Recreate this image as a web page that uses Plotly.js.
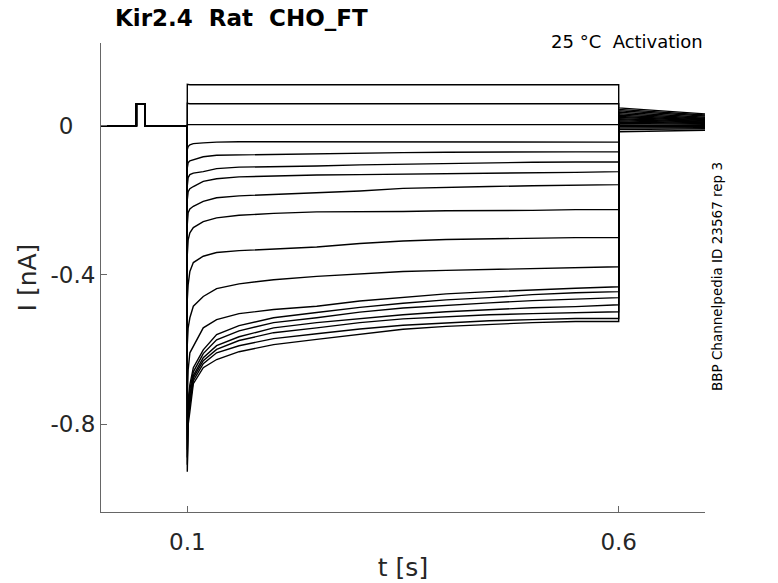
<!DOCTYPE html>
<html>
<head>
<meta charset="utf-8">
<script src="https://cdn.plot.ly/plotly-3.0.1.min.js"></script>
<style>
  html, body { margin: 0; padding: 0; background: #fff; }
  #chart { width: 778px; height: 583px; }
</style>
</head>
<body>
<div id="chart"></div>
<script>
// Kir2.4 activation sweeps (t in s, I in nA).

// holding + test pulse before the step (same for every sweep)
const preTimes = [0, 0.041, 0.041, 0.051, 0.051, 0.1];
const preCurrent = [0, 0, 0.058, 0.058, 0, 0];

// sample times during the voltage step
const stepTimes = [0.1, 0.101, 0.103, 0.107, 0.1185, 0.134, 0.16, 0.2, 0.25, 0.3, 0.35, 0.4, 0.45, 0.5, 0.55, 0.6];

const sweep01 = [0.111, 0.110, 0.110, 0.110, 0.110, 0.110, 0.110, 0.110, 0.110, 0.110, 0.110, 0.110, 0.110, 0.110, 0.110, 0.110];
const sweep02 = [0.060, 0.059, 0.059, 0.059, 0.059, 0.059, 0.059, 0.059, 0.059, 0.059, 0.059, 0.059, 0.059, 0.059, 0.059, 0.059];
const sweep03 = [0.002, 0.003, 0.003, 0.003, 0.003, 0.003, 0.003, 0.003, 0.003, 0.003, 0.003, 0.003, 0.003, 0.003, 0.003, 0.003];
const sweep04 = [-0.064, -0.056, -0.051, -0.048, -0.046, -0.044, -0.043, -0.043, -0.043, -0.043, -0.043, -0.043, -0.043, -0.043, -0.043, -0.044];
const sweep05 = [-0.113, -0.099, -0.094, -0.091, -0.083, -0.079, -0.078, -0.076, -0.075, -0.074, -0.072, -0.071, -0.070, -0.070, -0.070, -0.070];
const sweep06 = [-0.161, -0.139, -0.131, -0.127, -0.123, -0.115, -0.111, -0.110, -0.108, -0.105, -0.103, -0.101, -0.099, -0.098, -0.097, -0.097];
const sweep07 = [-0.198, -0.177, -0.169, -0.163, -0.149, -0.142, -0.137, -0.134, -0.132, -0.131, -0.130, -0.129, -0.127, -0.126, -0.125, -0.123];
const sweep08 = [-0.265, -0.233, -0.223, -0.216, -0.203, -0.193, -0.188, -0.184, -0.181, -0.175, -0.168, -0.165, -0.163, -0.161, -0.160, -0.158];
const sweep09 = [-0.346, -0.306, -0.287, -0.273, -0.257, -0.247, -0.240, -0.235, -0.231, -0.231, -0.230, -0.228, -0.228, -0.227, -0.225, -0.225];
const sweep10 = [-0.466, -0.426, -0.391, -0.367, -0.350, -0.340, -0.335, -0.330, -0.325, -0.316, -0.309, -0.305, -0.303, -0.302, -0.300, -0.300];
const sweep11 = [-0.587, -0.542, -0.515, -0.484, -0.458, -0.437, -0.424, -0.413, -0.404, -0.397, -0.391, -0.388, -0.385, -0.383, -0.381, -0.378];
const sweep12 = [-0.735, -0.655, -0.609, -0.592, -0.542, -0.520, -0.504, -0.493, -0.484, -0.470, -0.460, -0.451, -0.445, -0.440, -0.436, -0.432];
const sweep13 = [-0.815, -0.735, -0.694, -0.649, -0.601, -0.560, -0.536, -0.515, -0.501, -0.487, -0.476, -0.467, -0.461, -0.453, -0.448, -0.445];
const sweep14 = [-0.842, -0.748, -0.708, -0.660, -0.611, -0.574, -0.550, -0.528, -0.515, -0.500, -0.489, -0.481, -0.475, -0.469, -0.464, -0.461];
const sweep15 = [-0.869, -0.761, -0.721, -0.670, -0.622, -0.590, -0.566, -0.542, -0.528, -0.517, -0.507, -0.499, -0.493, -0.488, -0.485, -0.480];
const sweep16 = [-0.890, -0.775, -0.735, -0.676, -0.630, -0.600, -0.576, -0.555, -0.542, -0.528, -0.518, -0.512, -0.507, -0.504, -0.501, -0.499];
const sweep17 = [-0.909, -0.788, -0.748, -0.684, -0.638, -0.609, -0.590, -0.571, -0.558, -0.545, -0.535, -0.528, -0.523, -0.520, -0.517, -0.517];
const sweep18 = [-0.928, -0.802, -0.767, -0.692, -0.649, -0.627, -0.606, -0.587, -0.573, -0.559, -0.546, -0.538, -0.532, -0.528, -0.525, -0.525];

// tail back at holding potential
const tailTimes = [0.6, 0.7];
const tailStart = [0.048, 0.044, 0.040, 0.036, 0.032, 0.028, 0.025, 0.022, 0.019, 0.016, 0.013, 0.010, 0.006, 0.002, -0.002, -0.006, -0.010, -0.016];
const tailEnd = [0.032, 0.029, 0.026, 0.023, 0.020, 0.018, 0.016, 0.014, 0.012, 0.010, 0.008, 0.006, 0.004, 0.001, -0.002, -0.005, -0.008, -0.012];

const xTickVals = [0.1, 0.6];
const xTickText = ["0.1", "0.6"];
const yTickVals = [-0.8, -0.4, 0];
const yTickText = ["-0.8", "-0.4", "0\u2007\u2008"];

const sweeps = [sweep01, sweep02, sweep03, sweep04, sweep05, sweep06, sweep07, sweep08, sweep09,
  sweep10, sweep11, sweep12, sweep13, sweep14, sweep15, sweep16, sweep17, sweep18];

const FONT = "DejaVu Sans, Liberation Sans, sans-serif";
const AXIS_COLOR = "#666666";
const TEXT_COLOR = "#262626";

const traces = sweeps.map((s, i) => ({
  x: preTimes.concat(stepTimes, tailTimes),
  y: preCurrent.concat(s, [tailStart[i], tailEnd[i]]),
  type: "scatter",
  mode: "lines",
  line: { color: "#000000", width: 1.4 },
  hoverinfo: "skip",
}));

const axisCommon = {
  showline: true, linecolor: AXIS_COLOR, linewidth: 1,
  ticks: "inside", ticklen: 6, tickwidth: 1, tickcolor: AXIS_COLOR,
  showgrid: false, zeroline: false, mirror: false,
  tickfont: { family: FONT, size: 23, color: TEXT_COLOR },
  tickmode: "array",
};

const layout = {
  width: 778, height: 583,
  margin: { l: 101, r: 73, t: 43, b: 71 },
  paper_bgcolor: "#ffffff", plot_bgcolor: "#ffffff",
  showlegend: false,
  font: { family: FONT, color: TEXT_COLOR },
  title: {
    text: "<b>Kir2.4\u00a0\u00a0Rat\u00a0\u00a0CHO_FT</b>",
    font: { family: FONT, size: 23, color: "#000000" },
    xref: "container", x: 115 / 778, xanchor: "left",
    yref: "container", y: 1 - 18 / 583, yanchor: "middle",
  },
  xaxis: {
    ...axisCommon, range: [0, 0.7], tickvals: xTickVals, ticktext: xTickText, ticklabelstandoff: 9,
    title: { text: "t [s]", font: { family: FONT, size: 25, color: TEXT_COLOR }, standoff: 4 },
  },
  yaxis: {
    ...axisCommon, range: [-1.036, 0.222], tickvals: yTickVals, ticktext: yTickText,
    title: { text: "I [nA]", font: { family: FONT, size: 25, color: TEXT_COLOR }, standoff: 6 },
  },
  annotations: [
    {
      text: "25 °C\u00a0\u00a0Activation", showarrow: false,
      xref: "paper", x: 1, xanchor: "right", yref: "paper", y: 1.004, yanchor: "middle",
      font: { family: FONT, size: 18, color: "#000000" },
    },
    {
      text: "BBP Channelpedia ID 23567 rep 3", showarrow: false, textangle: -90,
      xref: "paper", x: (717 - 101) / 604, xanchor: "center", yref: "paper", y: 0.501, yanchor: "middle",
      font: { family: FONT, size: 13.5, color: "#000000" },
    },
  ],
};

Plotly.newPlot("chart", traces, layout, { staticPlot: true, displayModeBar: false });
</script>
</body>
</html>
